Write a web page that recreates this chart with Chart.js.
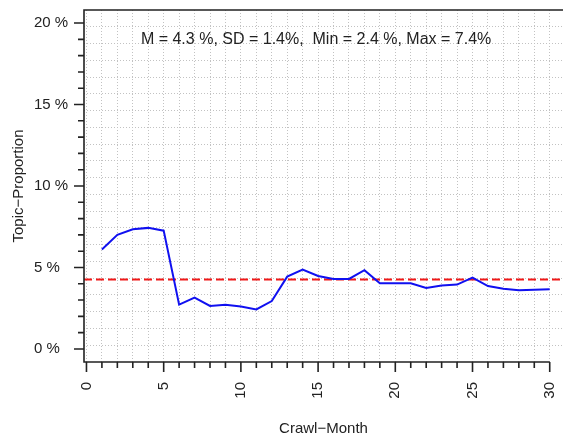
<!DOCTYPE html>
<html lang="en">
<head>
  <meta charset="UTF-8" />
  <title>Topic-Proportion per Crawl-Month</title>
  <script src="https://cdn.jsdelivr.net/npm/chart.js"></script>
  <style>
    html, body { margin: 0; padding: 0; background: #fff; }
    #wrap { width: 563px; height: 439px; position: relative; }
  </style>
</head>
<body>
<div id="wrap"><canvas id="topicChart"></canvas></div>

<script>
  // Data (topic share in percent per crawl month)
  const months = [1, 2, 3, 4, 5, 6, 7, 8, 9, 10, 11, 12, 13, 14, 15,
                  16, 17, 18, 19, 20, 21, 22, 23, 24, 25, 26, 27, 28, 29, 30];
  const topicShare = [6.10, 7.00, 7.34, 7.43, 7.26, 2.72, 3.15, 2.64, 2.72, 2.60,
                      2.43, 2.94, 4.44, 4.87, 4.48, 4.30, 4.30, 4.83, 4.03, 4.03,
                      4.03, 3.74, 3.90, 3.95, 4.38, 3.86, 3.70, 3.60, 3.64, 3.66];
  const meanShare = 4.27;
  const xLabelTicks = [0, 5, 10, 15, 20, 25, 30];
  const yLabelTicks = [0, 5, 10, 15, 20];
  const statsText = "M = 4.3 %, SD = 1.4%,  Min = 2.4 %, Max = 7.4%";

  // axis limits like R's default 4% extension (ylim 0..20, x 1..30)
  const X_MIN = -0.16, X_MAX = 30.86;
  const Y_MIN = -0.8, Y_MAX = 20.8;
  const INK = '#222';
  const GRID = '#c2c2c2';
  const FONT = "'Liberation Sans', Arial, sans-serif";

  const range = (a, b) => { const r = []; for (let i = a; i <= b; i++) r.push(i); return r; };

  // box, tick marks and the stats line
  const framePlugin = {
    id: 'frame',
    afterDraw(chart) {
      const { ctx, chartArea: a, scales: { x, y } } = chart;
      ctx.save();
      ctx.strokeStyle = INK;
      ctx.lineWidth = 1.6;
      ctx.beginPath();
      ctx.moveTo(a.right, a.top);
      ctx.lineTo(a.left, a.top);
      ctx.lineTo(a.left, a.bottom);
      ctx.lineTo(x.getPixelForValue(30), a.bottom);
      ctx.stroke();

      ctx.beginPath();
      range(0, 20).forEach(v => {
        const py = y.getPixelForValue(v);
        ctx.moveTo(a.left, py);
        ctx.lineTo(a.left - (v % 5 === 0 ? 10 : 6), py);
      });
      range(0, 30).forEach(v => {
        const px = x.getPixelForValue(v);
        ctx.moveTo(px, a.bottom);
        ctx.lineTo(px, a.bottom + (v % 5 === 0 ? 10 : 6));
      });
      ctx.stroke();

      ctx.fillStyle = INK;
      ctx.font = '16px ' + FONT;
      ctx.textAlign = 'center';
      ctx.textBaseline = 'middle';
      ctx.fillText(statsText, x.getPixelForValue(15) - 2, y.getPixelForValue(19));
      ctx.restore();
    }
  };

  const noPad = s => { s.paddingLeft = 0; s.paddingRight = 0; s.paddingTop = 0; s.paddingBottom = 0; };

  new Chart(document.getElementById('topicChart'), {
    type: 'line',
    data: {
      datasets: [
        {
          label: 'Topic share',
          data: months.map((m, i) => ({ x: m, y: topicShare[i] })),
          borderColor: '#1010f0',
          borderWidth: 2,
          pointRadius: 0,
          tension: 0
        },
        {
          label: 'Mean',
          data: [{ x: X_MIN, y: meanShare }, { x: X_MAX, y: meanShare }],
          borderColor: '#f01818',
          borderWidth: 2,
          borderDash: [8, 4],
          pointRadius: 0
        }
      ]
    },
    options: {
      responsive: true,
      maintainAspectRatio: false,
      animation: false,
      layout: { padding: { top: 10, left: 0, right: 0, bottom: 0 } },
      plugins: { legend: { display: false }, tooltip: { enabled: false } },
      scales: {
        x: {
          type: 'linear',
          min: X_MIN,
          max: X_MAX,
          afterBuildTicks: s => { s.ticks = range(0, 30).map(v => ({ value: v })); },
          afterFit: s => { s.height = 77; noPad(s); },
          grid: { color: GRID, lineWidth: 1, drawTicks: false },
          border: { display: false, dash: [1, 2] },
          ticks: {
            autoSkip: false,
            minRotation: 90,
            maxRotation: 90,
            padding: 20,
            color: INK,
            font: { family: FONT, size: 15 },
            callback: v => xLabelTicks.includes(v) ? String(v) : ''
          },
          title: {
            display: true,
            text: 'Crawl−Month',
            color: INK,
            font: { family: FONT, size: 15 },
            padding: { top: 0, bottom: 1 }
          }
        },
        y: {
          type: 'linear',
          position: 'left',
          weight: 0,
          min: Y_MIN,
          max: Y_MAX,
          afterBuildTicks: s => { s.ticks = range(0, 20).map(v => ({ value: v })); },
          afterFit: s => { s.width = 50; noPad(s); },
          grid: { display: false },
          border: { display: false },
          ticks: {
            autoSkip: false,
            crossAlign: 'far',
            color: INK,
            font: { family: FONT, size: 15 },
            callback: v => yLabelTicks.includes(v) ? v + ' %' : ''
          }
        },
        // second left axis: dotted horizontal grid (R grid() cells) + title
        yg: {
          type: 'linear',
          position: 'left',
          weight: 1,
          min: Y_MIN,
          max: Y_MAX,
          afterBuildTicks: s => {
            s.ticks = range(1, 20).map(k => ({ value: Y_MIN + k * (Y_MAX - Y_MIN) / 21 }));
          },
          afterFit: s => { s.width = 34; noPad(s); },
          grid: { color: GRID, lineWidth: 1, drawTicks: false },
          border: { display: false, dash: [1, 2] },
          ticks: { display: false },
          title: {
            display: true,
            text: 'Topic−Proportion',
            color: INK,
            font: { family: FONT, size: 15 },
            padding: { top: 10, bottom: 0 }
          }
        }
      }
    },
    plugins: [framePlugin]
  });
</script>
</body>
</html>
